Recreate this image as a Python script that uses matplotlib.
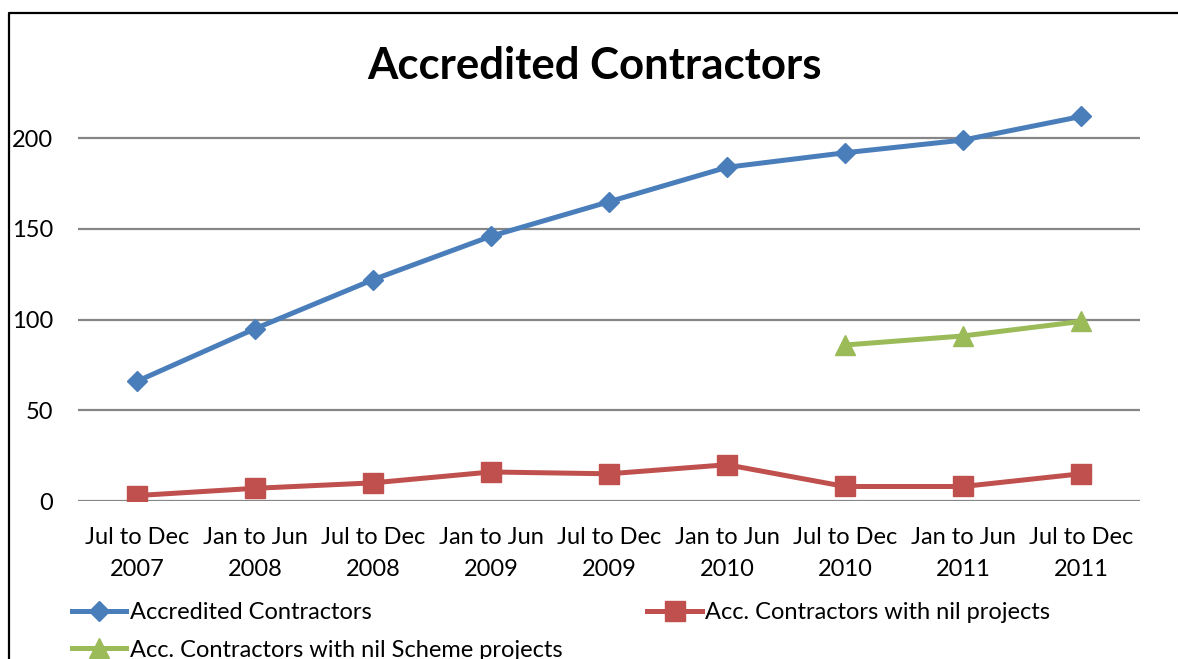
import matplotlib
matplotlib.use("Agg")
import matplotlib.pyplot as plt
from matplotlib.lines import Line2D

# Data
periods = [
    "Jul to Dec\n2007", "Jan to Jun\n2008", "Jul to Dec\n2008",
    "Jan to Jun\n2009", "Jul to Dec\n2009", "Jan to Jun\n2010",
    "Jul to Dec\n2010", "Jan to Jun\n2011", "Jul to Dec\n2011",
]
accredited = [66, 95, 122, 146, 165, 184, 192, 199, 212]
nil_projects = [3, 7, 10, 16, 15, 20, 8, 8, 15]
nil_scheme_idx = [6, 7, 8]
nil_scheme = [86, 91, 99]
y_ticks = [0, 50, 100, 150, 200]

BLUE = "#4A7EBB"
RED = "#C0504D"
GREEN = "#9BBB59"

plt.rcParams["font.family"] = ["Lato", "DejaVu Sans"]

fig = plt.figure(figsize=(11.78, 6.59), dpi=100)
ax = fig.add_axes([78 / 1178, 1 - 501 / 659, (1140 - 78) / 1178, 0.633])

x = list(range(len(periods)))
l1, = ax.plot(x, accredited, color=BLUE, lw=3.6, marker="D", ms=10.5,
              label="Accredited Contractors", zorder=3)
l2, = ax.plot(x, nil_projects, color=RED, lw=3.6, marker="s", ms=14,
              label="Acc. Contractors with nil projects", zorder=3)
l3, = ax.plot(nil_scheme_idx, nil_scheme, color=GREEN, lw=3.6, marker="^", ms=14,
              label="Acc. Contractors with nil Scheme projects", zorder=3)

ax.set_xlim(-0.5, len(periods) - 0.5)
ax.set_ylim(0, 230)
ax.set_yticks(y_ticks)
ax.set_xticks(x)
ax.set_xticklabels(periods, fontsize=17, linespacing=1.6)
ax.tick_params(axis="y", labelsize=17, length=0, pad=18)
ax.tick_params(axis="x", length=0, pad=19)
ax.grid(axis="y", color="#868686", lw=1.6)
ax.set_axisbelow(True)
for s in ax.spines.values():
    s.set_visible(False)

fig.text(0.505, 1 - 66 / 659, "Accredited Contractors", fontsize=31.5,
         fontweight="bold", ha="center", va="center")

ax.legend(handles=[l1, l3, l2], ncol=2, loc="upper left",
          bbox_to_anchor=(72 / 1178, 1 - 602 / 659), bbox_transform=fig.transFigure,
          frameon=False, fontsize=17, handlelength=2.3, handletextpad=0.15,
          columnspacing=3.6, labelspacing=0.7, borderpad=0, borderaxespad=0)

# outer chart frame (cropped on right and bottom)
fig.add_artist(Line2D([8.5 / 1178, 8.5 / 1178, 1.0], [0.0, 1 - 13 / 659, 1 - 13 / 659],
                      transform=fig.transFigure, color="black", lw=1.6))

fig.savefig("out.png", dpi=100)
